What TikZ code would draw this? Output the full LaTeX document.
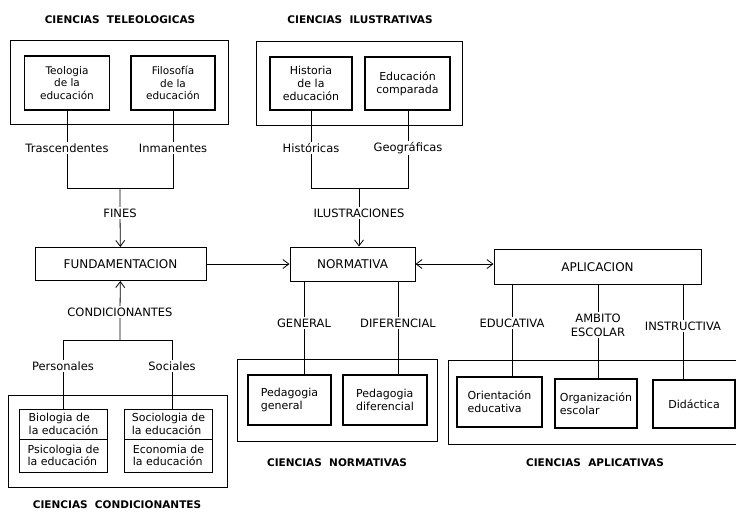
\documentclass[tikz,border=0pt]{standalone}
\usepackage{fontspec}
\setmainfont{DejaVu Sans}
\usetikzlibrary{arrows.meta}
\begin{document}
\begin{tikzpicture}[x=1pt,y=-1pt,
    outerbox/.style={draw, line width=0.8pt, inner sep=0pt},
    inbox/.style={draw, line width=1.3pt, inner sep=2pt, font=\fontsize{11}{13}\selectfont},
    stackbox/.style={draw, line width=1pt, inner sep=2pt, minimum width=88, align=left, font=\fontsize{11}{12.5}\selectfont},
    mainbox/.style={draw, line width=1pt, font=\fontsize{12}{14}\selectfont},
    lbl/.style={fill=white, inner sep=1.5pt, font=\fontsize{11.5}{13}\selectfont},
    title/.style={font=\bfseries\fontsize{10.5}{12}\selectfont},
    link/.style={line width=0.8pt},
    arr/.style={line width=0.8pt, -{Straight Barb[length=6pt,width=9pt]}},
    darr/.style={line width=0.8pt, {Straight Barb[length=6pt,width=9pt]}-{Straight Barb[length=6pt,width=9pt]}}]

    % Frame of the picture
    \useasboundingbox (0,0) rectangle (736,512);

    % Ciencias teleologicas
    \node[title] (ttele) at (120,20) {CIENCIAS\ \ TELEOLOGICAS};
    \node[outerbox, minimum width=218, minimum height=84] (tele) at (119,82) {};
    \node[inbox, minimum width=85, minimum height=54, align=center, font=\fontsize{10.5}{12.5}\selectfont] (teo) at (67,83) {Teologia\\de la\\educación};
    \node[inbox, minimum width=84, minimum height=54, align=center, font=\fontsize{10.5}{12.5}\selectfont] (fil) at (173,83) {Filosofía\\de la\\educación};
    \node[lbl] (tras) at (67,148) {Trascendentes};
    \node[lbl] (inma) at (173,148) {Inmanentes};
    \coordinate (teoj) at (67,188);
    \coordinate (filj) at (173,188);
    \coordinate (finj) at (120,188);
    \node[lbl] (fines) at (120,213) {FINES};

    % Ciencias ilustrativas
    \node[title] (tilus) at (360,20) {CIENCIAS\ \ ILUSTRATIVAS};
    \node[outerbox, minimum width=206, minimum height=84] (ilus) at (359,83) {};
    \node[inbox, minimum width=82, minimum height=53, align=center] (hist) at (311,83.5) {Historia\\de la\\educación};
    \node[inbox, minimum width=85, minimum height=53, align=center] (comp) at (407.5,83.5) {Educación\\comparada};
    \node[lbl] (histo) at (311,148) {Históricas};
    \node[lbl] (geog) at (408,148) {Geográficas};
    \coordinate (histj) at (311,188);
    \coordinate (geogj) at (408,188);
    \coordinate (ilusj) at (359,188);
    \node[lbl] (ilustr) at (359,213) {ILUSTRACIONES};

    % Main row
    \node[mainbox, minimum width=171, minimum height=33] (fund) at (120.5,264) {FUNDAMENTACION};
    \node[mainbox, minimum width=125, minimum height=34] (norm) at (352.5,264) {NORMATIVA};
    \node[mainbox, minimum width=207, minimum height=35] (aplic) at (597.5,267) {APLICACION};

    % Ciencias condicionantes
    \node[lbl] (cond) at (120,312) {CONDICIONANTES};
    \coordinate (condj) at (120,340);
    \coordinate (persj) at (63,340);
    \coordinate (socj) at (172,340);
    \node[lbl] (pers) at (63,366) {Personales};
    \node[lbl] (soc) at (172,366) {Sociales};
    \node[outerbox, minimum width=219, minimum height=92] (condi) at (117.5,441) {};
    \node[stackbox, minimum height=30] (biol) at (63.5,424) {Biologia de\\la educación};
    \node[stackbox, minimum height=33] (psic) at (63.5,455.5) {Psicologia de\\la educación};
    \node[stackbox, minimum height=30] (socio) at (168.5,424) {Sociologia de\\la educación};
    \node[stackbox, minimum height=33] (econ) at (168.5,455.5) {Economia de\\la educación};
    \node[title] (tcond) at (117,505) {CIENCIAS\ \ CONDICIONANTES};

    % Ciencias normativas
    \node[lbl] (gen) at (304,323) {GENERAL};
    \node[lbl] (dif) at (398,323) {DIFERENCIAL};
    \node[outerbox, minimum width=200, minimum height=82] (normv) at (337,400) {};
    \node[inbox, minimum width=83, minimum height=50, align=left] (pgen) at (289.5,400) {Pedagogia\\general};
    \node[inbox, minimum width=84, minimum height=50, align=left] (pdif) at (385,400) {Pedagogia\\diferencial};
    \node[title] (tnorm) at (337,463) {CIENCIAS\ \ NORMATIVAS};

    % Ciencias aplicativas
    \node[lbl] (educ) at (512,323) {EDUCATIVA};
    \node[lbl, align=center, font=\fontsize{11.5}{14}\selectfont] (amb) at (598,325) {AMBITO\\ESCOLAR};
    \node[lbl] (instr) at (683,326) {INSTRUCTIVA};
    \node[inbox, minimum width=85, minimum height=50, align=left] (orie) at (499.5,402) {Orientación\\educativa};
    \node[inbox, minimum width=82, minimum height=49, align=left] (orga) at (596,403.5) {Organización\\escolar};
    \node[inbox, minimum width=82, minimum height=48] (dida) at (694,404) {Didáctica};
    \node[title] (tapl) at (595,463) {CIENCIAS\ \ APLICATIVAS};
    % open frame, cut by the right margin
    \draw[line width=0.8pt] (736,360) -- (448,360) -- (448,444) -- (736,444);

    % Connectors of the upper part
    \draw[link] (teo) -- (tras) -- (teoj) -- (filj) -- (inma) -- (fil);
    \draw[arr] (finj) -- (fines) -- (fund);
    \draw[link] (hist) -- (histo) -- (histj) -- (geogj) -- (geog) -- (geog |- comp.south);
    \draw[arr] (ilusj) -- (ilustr) -- (ilustr |- norm.north);

    % Connectors of the main row
    \draw[arr] (fund) -- (norm);
    \draw[darr] (norm.east) -- (aplic.west |- norm.east);

    % Connectors of the lower part
    \draw[arr] (condj) -- (cond) -- (fund);
    \draw[link] (persj) -- (socj);
    \draw[link] (persj) -- (pers) -- (pers |- biol.north);
    \draw[link] (socj) -- (soc) -- (soc |- socio.north);
    \draw[link] (gen |- norm.south) -- (gen) -- (gen |- pgen.north);
    \draw[link] (dif |- norm.south) -- (dif) -- (dif |- pdif.north);
    \draw[link] (educ |- aplic.south) -- (educ) -- (educ |- orie.north);
    \draw[link] (amb |- aplic.south) -- (amb) -- (amb |- orga.north);
    \draw[link] (instr |- aplic.south) -- (instr) -- (instr |- dida.north);
\end{tikzpicture}
\end{document}
